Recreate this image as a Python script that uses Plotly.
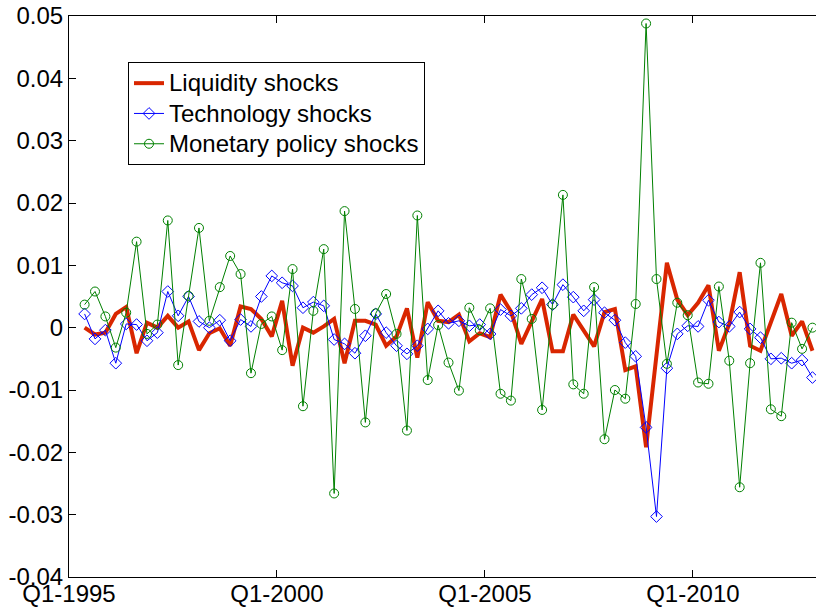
import numpy as np
import plotly.graph_objects as go

# quarterly shocks, first obs plotted at 1995.375, step of one quarter
start_year = 1995.375
liquidity = [
    0.0000, -0.0011, -0.0008, 0.0022, 0.0033, -0.0041, 0.0008, 0.0000, 0.0019, 0.0000,
    0.0010, -0.0036, -0.0009, -0.0001, -0.0029, 0.0034, 0.0030, 0.0014, -0.0014, 0.0043,
    -0.0061, 0.0000, -0.0008, 0.0002, 0.0014, -0.0057, 0.0011, 0.0011, 0.0005, -0.0029,
    -0.0014, 0.0031, -0.0048, 0.0041, 0.0011, 0.0009, 0.0021, -0.0022, -0.0009, -0.0015,
    0.0053, 0.0026, -0.0026, 0.0011, 0.0046, -0.0038, -0.0038, 0.0021, -0.0005, -0.0030,
    0.0025, 0.0030, -0.0068, -0.0062, -0.0192, -0.0045, 0.0104, 0.0045, 0.0020, 0.0040,
    0.0068, -0.0037, 0.0006, 0.0089, -0.0029, -0.0037, 0.0009, 0.0054, -0.0013, 0.0010,
    -0.0037,
]
technology = [
    0.0022, -0.0018, -0.0004, -0.0057, 0.0006, 0.0005, -0.0021, -0.0008, 0.0058, 0.0019,
    0.0050, 0.0010, 0.0000, 0.0012, -0.0021, 0.0013, 0.0002, 0.0050, 0.0083, 0.0072,
    0.0067, 0.0032, 0.0041, 0.0035, -0.0019, -0.0026, -0.0041, -0.0013, 0.0022, -0.0008,
    -0.0029, -0.0042, -0.0029, -0.0002, 0.0027, 0.0007, 0.0011, 0.0003, 0.0005, -0.0010,
    0.0029, 0.0019, 0.0031, 0.0053, 0.0064, 0.0037, 0.0069, 0.0049, 0.0027, 0.0045,
    0.0024, 0.0012, -0.0024, -0.0046, -0.0160, -0.0303, -0.0065, -0.0010, 0.0003, 0.0002,
    0.0044, 0.0009, 0.0002, 0.0025, -0.0002, -0.0016, -0.0050, -0.0049, -0.0057, -0.0052,
    -0.0080,
]
monetary = [
    0.0037, 0.0058, 0.0018, -0.0032, 0.0024, 0.0138, -0.0010, 0.0005, 0.0172, -0.0060,
    0.0051, 0.0160, 0.0011, 0.0065, 0.0115, 0.0086, -0.0073, 0.0006, 0.0018, -0.0036,
    0.0094, -0.0126, 0.0027, 0.0126, -0.0266, 0.0187, 0.0030, -0.0152, 0.0023, 0.0054,
    -0.0010, -0.0165, 0.0180, -0.0084, 0.0004, -0.0056, -0.0101, 0.0032, -0.0004, 0.0031,
    -0.0106, -0.0117, 0.0078, 0.0014, -0.0132, 0.0037, 0.0213, -0.0091, -0.0106, 0.0065,
    -0.0179, -0.0100, -0.0114, 0.0038, 0.0488, 0.0078, -0.0058, 0.0040, 0.0020, -0.0088,
    -0.0090, 0.0066, -0.0053, -0.0256, -0.0057, 0.0104, -0.0131, -0.0142, 0.0008, -0.0034,
    0.0000,
]

x_tick_years = [1995, 2000, 2005, 2010]
x_tick_labels = ["Q1-1995", "Q1-2000", "Q1-2005", "Q1-2010"]
y_tick_vals = [0.05, 0.04, 0.03, 0.02, 0.01, 0, -0.01, -0.02, -0.03, -0.04]
y_tick_labels = ["0.05", "0.04", "0.03", "0.02", "0.01", "0",
                 "-0.01", "-0.02", "-0.03", "-0.04"]

t = start_year + 0.25 * np.arange(len(liquidity))

FONT = "Liberation Sans, Arial, sans-serif"


def legend_name(s):
    # bigger glyphs than the legend font so the rows stay tight like the original
    return '<span style="font-size:24px">%s</span>' % s


fig = go.Figure()
fig.add_trace(go.Scatter(
    x=t, y=liquidity, mode="lines", name=legend_name("Liquidity shocks"),
    line=dict(color="rgb(217,38,0)", width=4),
))
fig.add_trace(go.Scatter(
    x=t, y=technology, mode="lines+markers", name=legend_name("Technology shocks"),
    line=dict(color="rgb(0,0,255)", width=1),
    marker=dict(symbol="diamond-open", size=9, color="rgb(0,0,255)",
                line=dict(width=1)),
))
fig.add_trace(go.Scatter(
    x=t, y=monetary, mode="lines+markers", name=legend_name("Monetary policy shocks"),
    line=dict(color="rgb(0,128,0)", width=1),
    marker=dict(symbol="circle-open", size=9, color="rgb(0,128,0)",
                line=dict(width=1)),
))

fig.update_layout(
    width=816, height=609,
    margin=dict(l=69, r=0, t=16, b=32),
    paper_bgcolor="white", plot_bgcolor="white",
    font=dict(family=FONT, size=24, color="black"),
    showlegend=True,
    legend=dict(
        x=0.079, y=0.918, xanchor="left", yanchor="top",
        bgcolor="white", bordercolor="black", borderwidth=1,
        font=dict(family=FONT, size=21, color="black"),
        tracegroupgap=0, itemwidth=30,
    ),
)
fig.update_xaxes(
    range=[1995, 2012.96],
    tickvals=x_tick_years, ticktext=x_tick_labels,
    showgrid=False, zeroline=False,
    showline=True, linecolor="black", linewidth=1, mirror="ticks",
    ticks="inside", ticklen=7, tickcolor="black",
    ticklabelstandoff=-5,
)
fig.update_yaxes(
    range=[-0.04, 0.05],
    tickvals=y_tick_vals, ticktext=y_tick_labels,
    showgrid=False, zeroline=False,
    showline=True, linecolor="black", linewidth=1, mirror=False,
    ticks="inside", ticklen=7, tickcolor="black",
)

# page body margin would shift the figure by 8px
fig.write_html("out.html", config={"displayModeBar": False},
               post_script="document.body.style.margin='0';")
